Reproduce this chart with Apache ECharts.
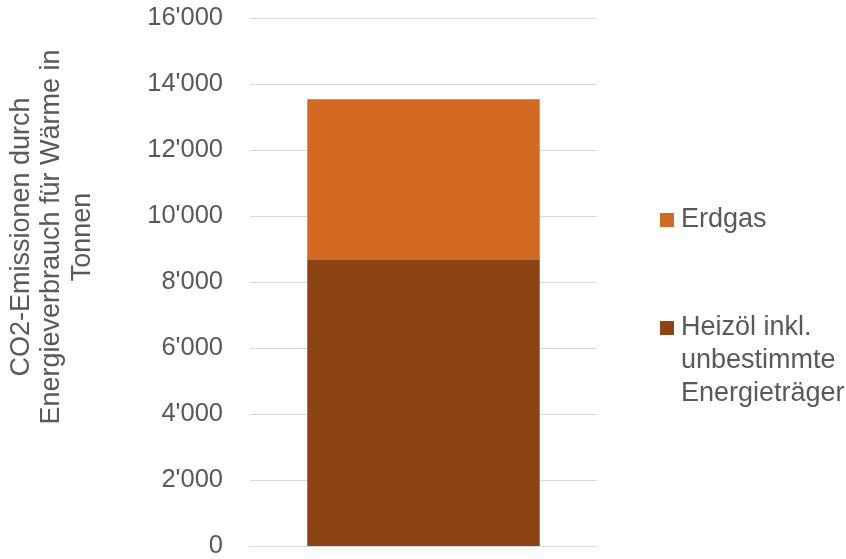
<!DOCTYPE html>
<html>
<head>
<meta charset="utf-8">
<script src="https://cdn.jsdelivr.net/npm/echarts@6/dist/echarts.min.js"></script>
<style>html,body{margin:0;padding:0;background:#fff}#c{width:846px;height:559px}</style>
</head>
<body>
<div id="c"></div>
<script>
const categories = [''];
const heizoelValues = [8670];
const erdgasValues = [4870];
const seriesNames = ['Erdgas', 'Heizöl inkl.\nunbestimmte\nEnergieträger'];
const yAxisTitle = 'CO2-Emissionen durch\nEnergieverbrauch für Wärme in\nTonnen';
const yMin = 0, yMax = 16000, yInterval = 2000;

const FONT = '"Liberation Sans", Arial, sans-serif';
const TXT = '#595959';
function fmt(v){ return String(v).replace(/\B(?=(\d{3})+(?!\d))/g, "'"); }

const chart = echarts.init(document.getElementById('c'));
chart.setOption({
  animation: false,
  backgroundColor: '#fff',
  grid: { left: 250, right: 249, top: 18, bottom: 13, containLabel: false },
  xAxis: {
    type: 'category', data: categories,
    axisLine: { show: true, lineStyle: { color: '#D9D9D9', width: 1 } },
    axisTick: { show: false }, axisLabel: { show: false }
  },
  yAxis: {
    type: 'value', min: yMin, max: yMax, interval: yInterval,
    axisLine: { show: false }, axisTick: { show: false },
    splitLine: { lineStyle: { color: '#D9D9D9', width: 1 } },
    axisLabel: { color: TXT, fontFamily: FONT, fontSize: 25.5, margin: 27, formatter: fmt }
  },
  legend: [
    {
      data: [seriesNames[0]], orient: 'vertical', left: 660, top: 203.5, padding: 0,
      itemWidth: 14, itemHeight: 14, itemGap: 0, selectedMode: false, icon: 'rect',
      textStyle: { color: TXT, fontFamily: FONT, fontSize: 27, lineHeight: 33, padding: [0,0,0,2] }
    },
    {
      data: [seriesNames[1]], orient: 'vertical', left: 660, top: 245.5, padding: 0,
      itemWidth: 14, itemHeight: 14, itemGap: 0, selectedMode: false, icon: 'rect',
      formatter: function (name) { return '\n\n' + name; },
      textStyle: { color: TXT, fontFamily: FONT, fontSize: 27, lineHeight: 33, padding: [0,0,0,2] }
    }
  ],
  graphic: [{
    type: 'text', x: 52, y: 237, rotation: Math.PI / 2,
    style: { text: yAxisTitle, fill: TXT, font: '27px ' + FONT, align: 'center', verticalAlign: 'middle', lineHeight: 30.5 }
  }],
  series: [
    { name: seriesNames[1], type: 'bar', stack: 'total', data: heizoelValues, barWidth: '67%', itemStyle: { color: '#8C4415' } },
    { name: seriesNames[0], type: 'bar', stack: 'total', data: erdgasValues, barWidth: '67%', itemStyle: { color: '#D26A21' } }
  ]
});
</script>
</body>
</html>
